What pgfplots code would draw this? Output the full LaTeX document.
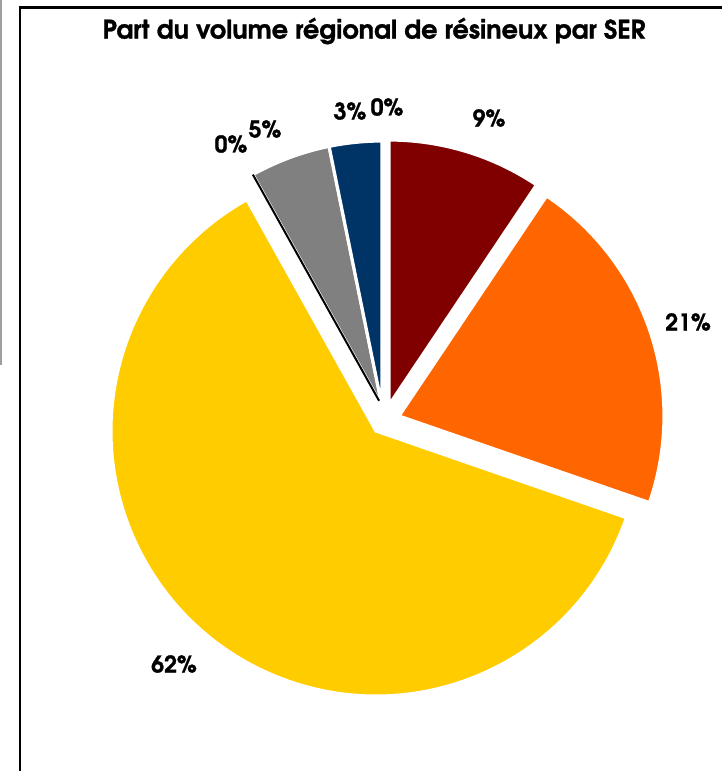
\documentclass[border=0pt]{standalone}
\usepackage{fontspec}
\setmainfont{TeX Gyre Adventor}[BoldFeatures={FakeBold=1}]
\usepackage{pgfplots}
\usepackage{pgfplotstable}
\pgfplotsset{compat=1.18}
\definecolor{sred}{RGB}{128,0,0}
\definecolor{sorange}{RGB}{255,102,0}
\definecolor{syellow}{RGB}{255,204,0}
\definecolor{sgray}{RGB}{128,128,128}
\definecolor{snavy}{RGB}{0,51,102}
\tikzset{lbl/.style={font=\bfseries\fontsize{11.5}{13}\selectfont, inner sep=0pt}}

% value (%), offset of the slice centre (px), kind (1 wedge, 2 zero slice drawn as a line, 0 nothing), colour, label position (px)
\pgfplotstableread{
value dx dy kind col lx ly
9.4 7 -1 1 sred 489 118
20.9 17 10 1 sorange 688 322
61.6 -6 25 1 syellow 174 664
0 0 0 2 black 231 144
4.9 0 0 1 sgray 265 129
3.2 0 0 1 snavy 350 111
0 0 0 0 white 387 107
}\piedata

\begin{document}
\begin{tikzpicture}
\begin{axis}[
  width=361pt, height=385.5pt, scale only axis,
  xmin=0, xmax=722, ymin=0, ymax=771, y dir=reverse,
  hide axis, clip=false,
]
\draw[gray!75, line width=1pt] (axis cs:1,0) -- (axis cs:1,365);
\draw[black, line width=1.4pt, line join=miter] (axis cs:20,771) -- (axis cs:20,7.7) -- (axis cs:722,7.7);
\node[font=\bfseries\fontsize{12.8}{15}\selectfont, inner sep=0pt] at (axis cs:374,31) {Part du volume régional de résineux par SER};
\def\cum{0}
\def\blackline{}
\pgfplotsforeachungrouped \i in {0,...,6}{%
  \pgfplotstablegetelem{\i}{value}\of\piedata \let\val\pgfplotsretval
  \pgfplotstablegetelem{\i}{dx}\of\piedata \let\odx\pgfplotsretval
  \pgfplotstablegetelem{\i}{dy}\of\piedata \let\ody\pgfplotsretval
  \pgfplotstablegetelem{\i}{kind}\of\piedata \let\kind\pgfplotsretval
  \pgfplotstablegetelem{\i}{col}\of\piedata \let\col\pgfplotsretval
  \pgfplotstablegetelem{\i}{lx}\of\piedata \let\lx\pgfplotsretval
  \pgfplotstablegetelem{\i}{ly}\of\piedata \let\ly\pgfplotsretval
  \pgfmathsetmacro{\aone}{90-\cum*3.6}%
  \pgfmathsetmacro{\atwo}{90-(\cum+\val)*3.6}%
  \pgfmathsetmacro{\cx}{382+\odx}%
  \pgfmathsetmacro{\cy}{406+\ody}%
  \pgfmathtruncatemacro{\pct}{round(\val)}%
  \ifnum\kind=1
    \edef\cmd{\noexpand\filldraw[fill=\col, draw=white, line width=1.6pt, line join=miter] (axis cs:\cx,\cy) -- ++(\aone:132.5pt) arc[start angle=\aone, end angle=\atwo, radius=132.5pt] -- cycle;}\cmd
  \fi
  \ifnum\kind=2
    \xdef\blackline{\noexpand\draw[black, line width=1pt] (axis cs:\cx,\cy) ++(\aone:3pt) -- ++(\aone:129.5pt);}%
  \fi
  \edef\cmd{\noexpand\node[lbl] at (axis cs:\lx,\ly) {\pct\noexpand\%};}\cmd
  \pgfmathsetmacro{\cum}{\cum+\val}%
}
\blackline
\end{axis}
\pgfresetboundingbox
\path (current axis.south west) rectangle (current axis.north east);
\end{tikzpicture}
\end{document}
